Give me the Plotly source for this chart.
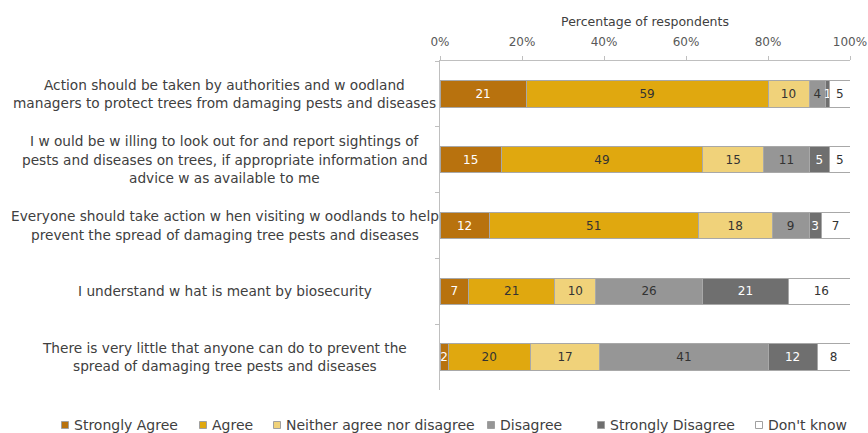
import plotly.graph_objects as go

statements = [
    ["Action should be taken by authorities and w oodland",
     "managers to protect trees from damaging pests and diseases"],
    ["I w ould be w illing to look out for and report sightings of",
     "pests and diseases on trees, if appropriate information and",
     "advice w as available to me"],
    ["Everyone should take action w hen visiting w oodlands to help",
     "prevent the spread of damaging tree pests and diseases"],
    ["I understand w hat is meant by biosecurity"],
    ["There is very little that anyone can do to prevent the",
     "spread of damaging tree pests and diseases"],
]
categories = ["Q1", "Q2", "Q3", "Q4", "Q5"]

series_names = ["Strongly Agree", "Agree", "Neither agree nor disagree",
                "Disagree", "Strongly Disagree", "Don't know"]
strongly_agree = [21, 15, 12, 7, 2]
agree = [59, 49, 51, 21, 20]
neither = [10, 15, 18, 10, 17]
disagree = [4, 11, 9, 26, 41]
strongly_disagree = [1, 5, 3, 21, 12]
dont_know = [5, 5, 7, 16, 8]
series_values = [strongly_agree, agree, neither, disagree, strongly_disagree, dont_know]

colors = ["#B8720E", "#E0A80F", "#F0D27A", "#969696", "#6F6F6F", "#FFFFFF"]
text_colors = ["#FFFFFF", "#333333", "#333333", "#333333", "#FFFFFF", "#333333"]

FONT = "DejaVu Sans"
W, H = 868, 433
ML, MR, MT, MB = 440, 18, 61, 43
PW, PH = W - ML - MR, H - MT - MB


def px_x(px):
    return (px - ML) / PW


def px_y(py):
    return (H - MB - py) / PH


fig = go.Figure()
for name, vals, col, tcol in zip(series_names, series_values, colors, text_colors):
    fig.add_trace(go.Bar(
        y=categories, x=vals, name=name, orientation="h",
        marker=dict(color=col, line=dict(color="#A8A8A8", width=1)),
        text=[str(v) for v in vals], textposition="inside",
        insidetextanchor="middle", textangle=0, constraintext="none",
        textfont=dict(family=FONT, size=12, color=tcol),
        width=0.4, showlegend=False,
    ))

# category labels, centred, one annotation per line
line_gap = 18.5
for cat, lines in zip(categories, statements):
    n = len(lines)
    for i, ln in enumerate(lines):
        off = (i - (n - 1) / 2) * line_gap
        fig.add_annotation(
            x=px_x(224.5), xref="paper", y=cat, yref="y", yshift=-off,
            text=ln, showarrow=False, xanchor="center", yanchor="middle",
            font=dict(family=FONT, size=13.7, color="#404040"),
        )

# legend row (drawn as shapes + text so the spacing matches)
legend_marker_px = [65, 203, 277, 491, 601, 759]
legend_y_px = 425
for name, col, mx in zip(series_names, colors, legend_marker_px):
    fig.add_shape(type="rect", xref="paper", yref="paper",
                  x0=px_x(mx - 3.5), x1=px_x(mx + 3.5),
                  y0=px_y(legend_y_px + 3.5), y1=px_y(legend_y_px - 3.5),
                  fillcolor=col, line=dict(color="#A0A0A0", width=1))
    fig.add_annotation(x=px_x(mx + 7), xref="paper", y=px_y(legend_y_px),
                       yref="paper", text=name, showarrow=False,
                       xanchor="left", yanchor="middle",
                       font=dict(family=FONT, size=14, color="#404040"))

fig.update_layout(
    barmode="stack",
    width=W, height=H,
    margin=dict(l=ML, r=MR, t=MT, b=MB, autoexpand=False),
    paper_bgcolor="white", plot_bgcolor="white",
    font=dict(family=FONT, color="#404040"),
    showlegend=False,
    xaxis=dict(side="top", range=[0, 100], dtick=20, ticksuffix="%",
               showgrid=False, zeroline=False, showline=True,
               linecolor="#BFBFBF", ticks="outside", ticklen=4,
               tickcolor="#BFBFBF", ticklabelstandoff=5,
               tickfont=dict(family=FONT, size=12, color="#595959"),
               title=dict(text="Percentage of respondents", standoff=5,
                          font=dict(family=FONT, size=12.5, color="#404040"))),
    yaxis=dict(autorange="reversed", showticklabels=False, showgrid=False,
               zeroline=False, showline=True, linecolor="#BFBFBF",
               ticks="outside", ticklen=4, tickcolor="#BFBFBF",
               tickson="boundaries"),
)

fig.write_html("out.html")
